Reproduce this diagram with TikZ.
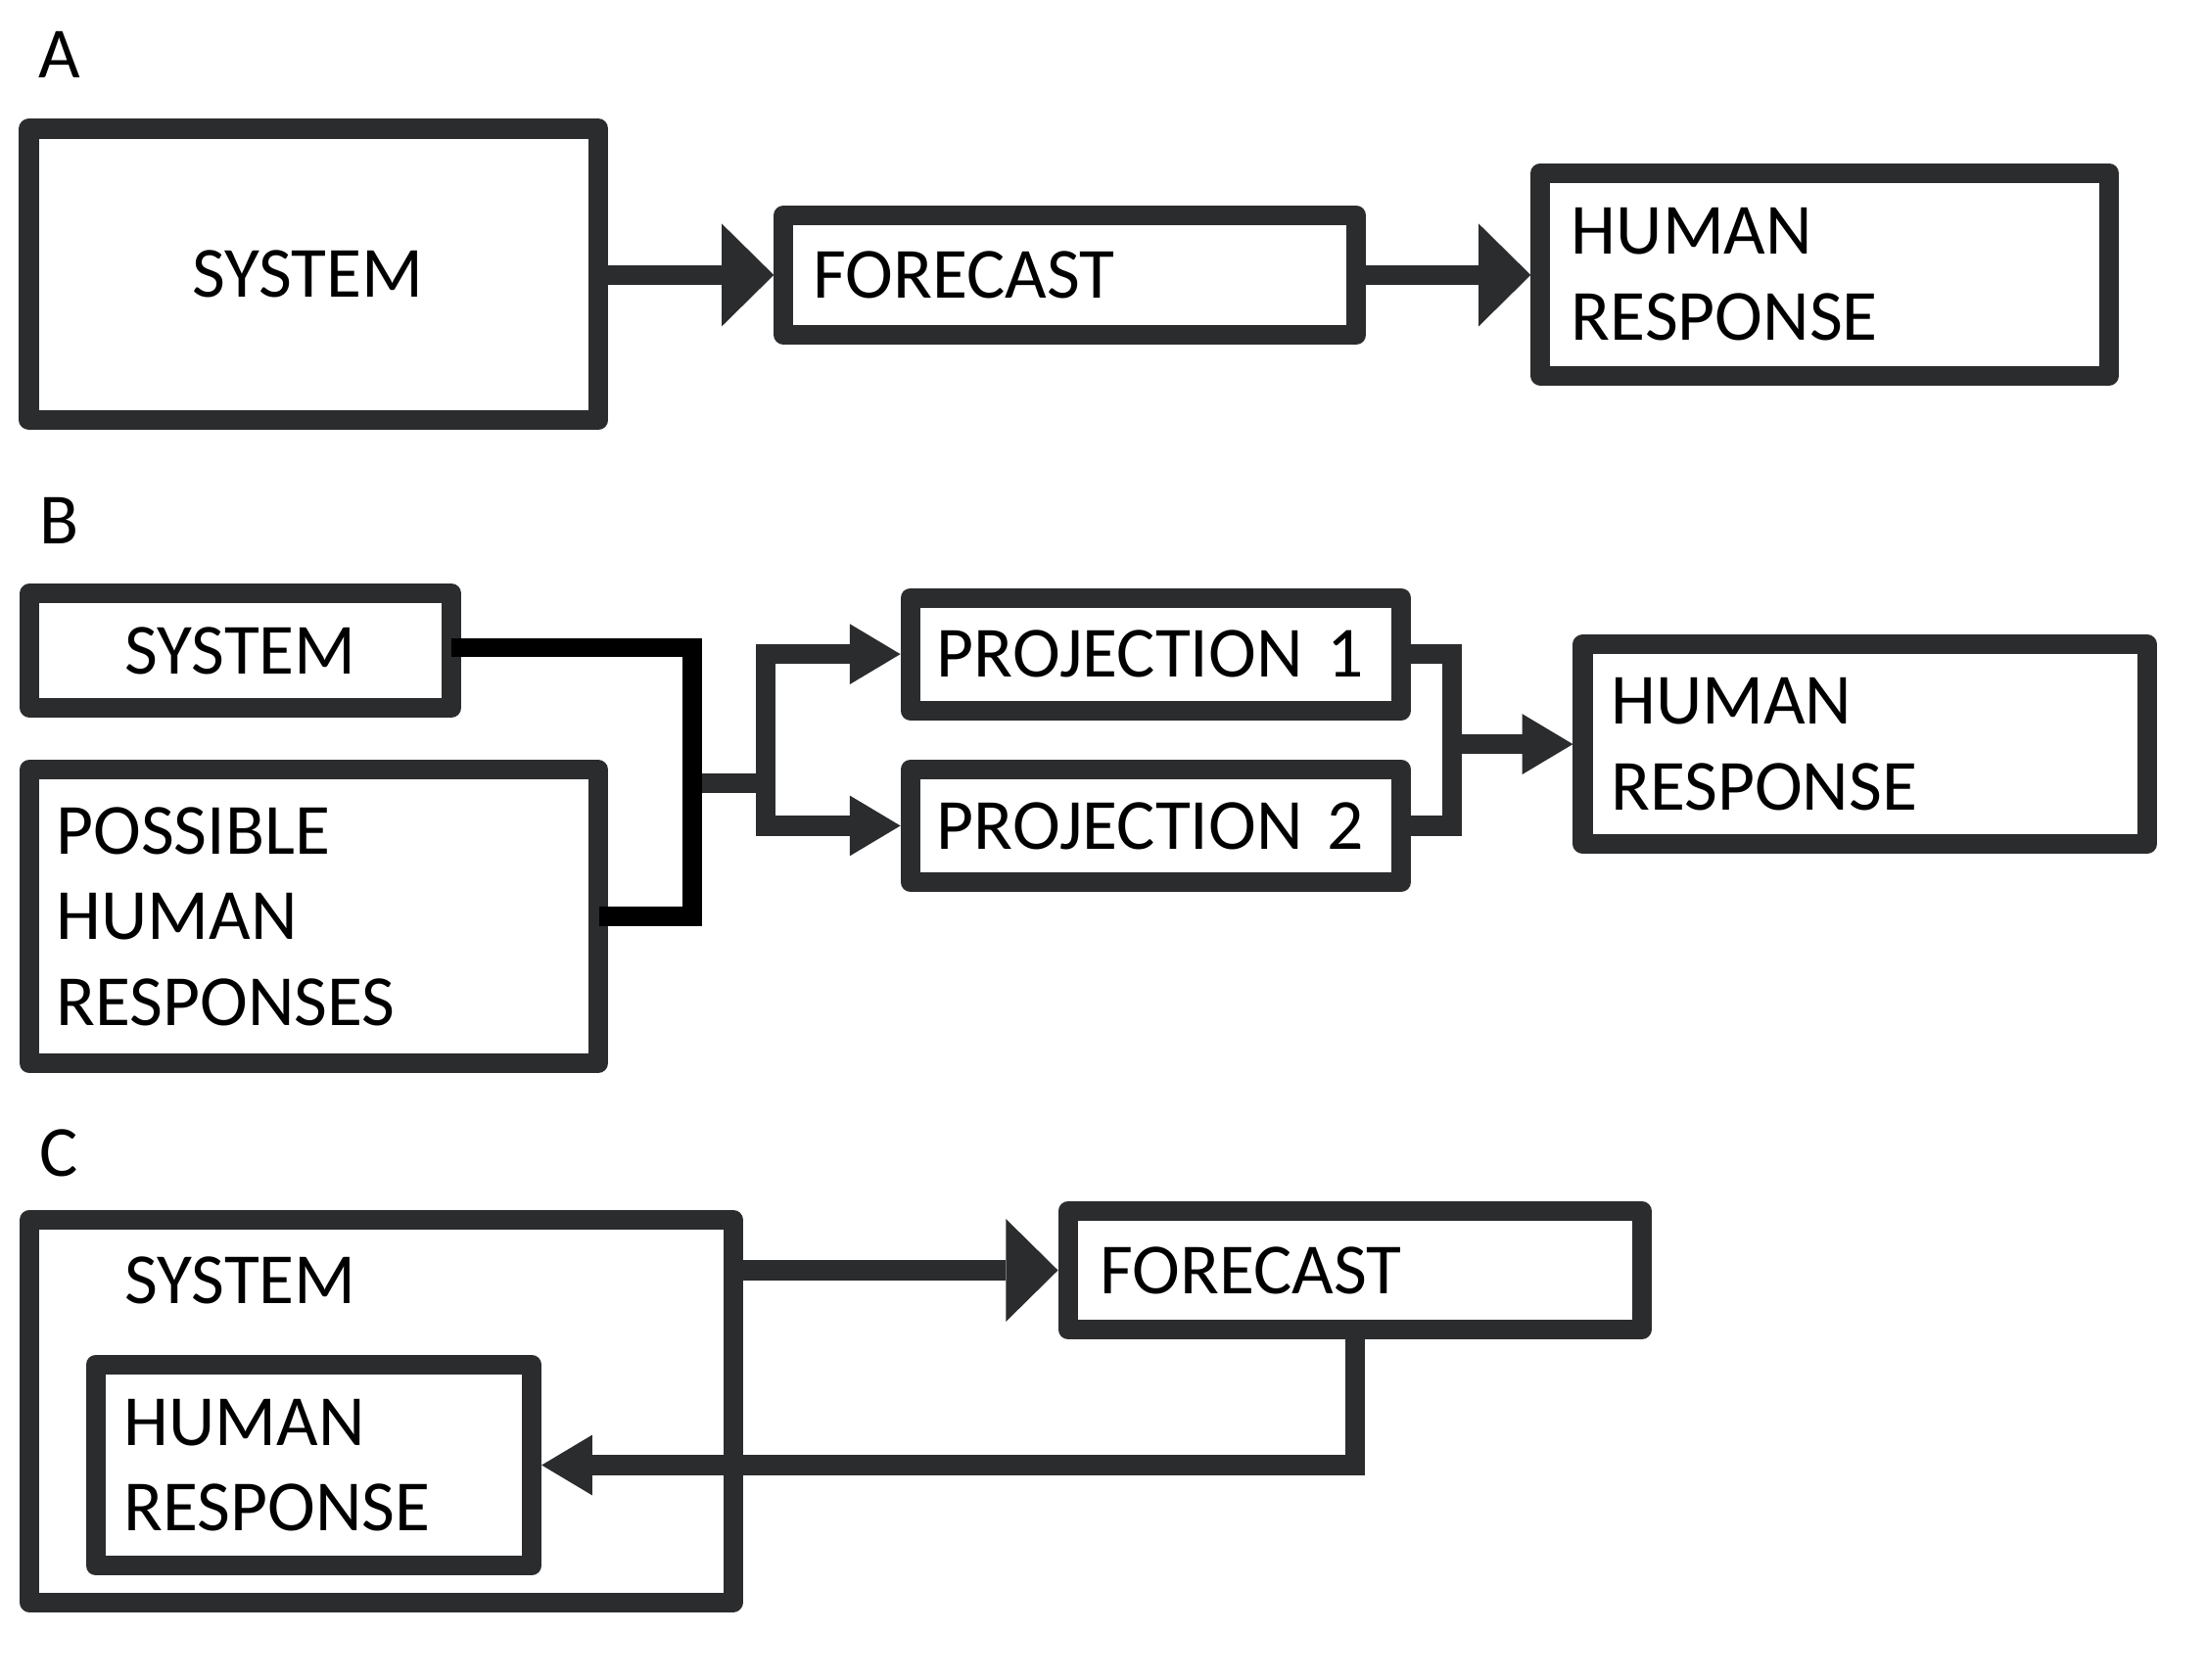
\documentclass[tikz,border=0pt]{standalone}
\usepackage{fontspec}
\setmainfont{Carlito}
\usetikzlibrary{arrows.meta,calc}
\definecolor{dk}{RGB}{43,44,46}
\begin{document}
\begin{tikzpicture}[x=0.5pt,y=-0.5pt,
  every node/.style={font=\fontsize{25.6pt}{30.5pt}\selectfont, text=black},
  box/.style={draw=dk, line width=7pt, line join=round, rectangle, align=left},
  conn/.style={draw=dk, line width=7pt},
  bigtip/.style={-{Triangle[length=18.5pt,width=36.5pt,line width=0pt]}},
  smalltip/.style={-{Triangle[length=18pt,width=21.5pt,line width=0pt]}},
  bracket/.style={draw=black, line width=6.8pt}
]
\useasboundingbox (0,0) rectangle (1568,1194);

% ---------- Panel A ----------
\node (labA) at (42,39) {A};
\node[box, minimum width=202.5pt, minimum height=103.5pt, inner xsep=58pt, text width=86.5pt] (sysA) at (223,195) {SYSTEM};
\node[box, minimum height=42.5pt, inner xsep=10.5pt, text width=182.5pt] (foreA) at (760.5,195.5) {FORECAST};
\node[box, minimum height=72pt, inner xsep=11pt, text width=180pt] (hrA) at (1297,195) {HUMAN\\RESPONSE};
\draw[conn,bigtip] (sysA.east |- foreA.west) -- (foreA.west);
\draw[conn,bigtip] (foreA.east) -- (foreA.east -| hrA.west);

% ---------- Panel B ----------
\node (labB) at (42,370) {B};
\node[box, align=center, minimum width=150pt, minimum height=40.5pt] (sysB) at (171,462.5) {SYSTEM};
\node[box, minimum height=104.5pt, inner xsep=9.5pt, text width=183pt] (posB) at (223,651.5) {POSSIBLE\\HUMAN\\RESPONSES};
\node[box, minimum height=40pt, inner xsep=9.5pt, text width=155.5pt] (p1) at (821.5,465) {PROJECTION 1};
\node[box, minimum height=40pt, inner xsep=9.5pt, text width=155.5pt] (p2) at (821.5,587) {PROJECTION 2};
\node[box, minimum height=71pt, inner xsep=10pt, text width=180.5pt] (hrB) at (1325.5,529) {HUMAN\\RESPONSE};
\coordinate (jB) at (492,557);
\coordinate (sB) at (544,557);
\coordinate (mB) at (1032,529);
\draw[conn] (jB) -- (sB);
\draw[conn,smalltip] (sB) |- (p1.west);
\draw[conn,smalltip] (sB) |- (p2.west);
\draw[conn] (p1.east) -| (mB);
\draw[conn] (p2.east) -| (mB);
\draw[conn,smalltip] (mB) -- (hrB.west);
\draw[bracket] ([xshift=-3.5pt,yshift=1pt]sysB.east) -| (jB) |- ([xshift=-3pt]posB.east);

% ---------- Panel C ----------
\node (labC) at (42,820) {C};
\node[box, minimum width=250pt, minimum height=136pt] (sysC) at (271,1003) {};
\node (sysCt) at (171,910) {SYSTEM};
\node[box, minimum height=71.5pt, inner xsep=10pt, text width=135pt] (hrC) at (223,1041.5) {HUMAN\\RESPONSE};
\node[box, minimum height=42pt, inner xsep=11.5pt, text width=181pt] (foreC) at (963,903) {FORECAST};
\draw[conn,bigtip] (sysC.east |- foreC.west) -- (foreC.west);
\draw[conn,smalltip] (foreC.south) |- (hrC.east);
\end{tikzpicture}
\end{document}
